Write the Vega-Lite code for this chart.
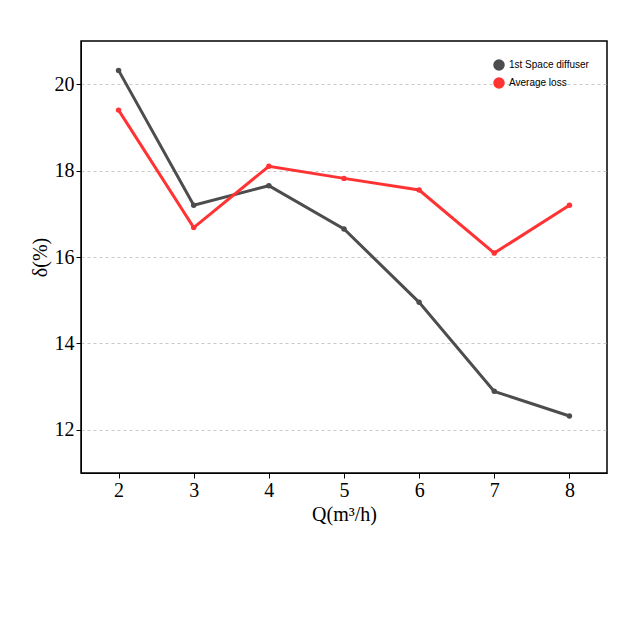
{
  "$schema": "https://vega.github.io/schema/vega-lite/v6.json",
  "width": 526,
  "height": 432,
  "autosize": {"type": "none"},
  "padding": {"left": 81, "top": 41, "right": 15, "bottom": 169},
  "background": "white",
  "config": {
    "view": {"stroke": "black", "strokeWidth": 1.5},
    "axis": {
      "labelFont": "Liberation Serif",
      "labelFontSize": 20,
      "labelColor": "black",
      "titleFont": "Liberation Serif",
      "titleFontSize": 20,
      "titleFontWeight": "normal",
      "titleColor": "black",
      "domainColor": "black",
      "tickColor": "black",
      "gridColor": "#c8c8c8",
      "gridDash": [3, 3]
    }
  },
  "data": {
    "values": [
      {"Q": 2, "delta": 20.32, "series": "1st Space diffuser"},
      {"Q": 3, "delta": 17.2, "series": "1st Space diffuser"},
      {"Q": 4, "delta": 17.65, "series": "1st Space diffuser"},
      {"Q": 5, "delta": 16.65, "series": "1st Space diffuser"},
      {"Q": 6, "delta": 14.95, "series": "1st Space diffuser"},
      {"Q": 7, "delta": 12.89, "series": "1st Space diffuser"},
      {"Q": 8, "delta": 12.32, "series": "1st Space diffuser"},
      {"Q": 2, "delta": 19.4, "series": "Average loss"},
      {"Q": 3, "delta": 16.68, "series": "Average loss"},
      {"Q": 4, "delta": 18.1, "series": "Average loss"},
      {"Q": 5, "delta": 17.82, "series": "Average loss"},
      {"Q": 6, "delta": 17.55, "series": "Average loss"},
      {"Q": 7, "delta": 16.09, "series": "Average loss"},
      {"Q": 8, "delta": 17.2, "series": "Average loss"}
    ]
  },
  "mark": {"type": "line", "strokeWidth": 3, "point": true},
  "encoding": {
    "x": {
      "field": "Q",
      "type": "quantitative",
      "scale": {"domain": [1.5, 8.5], "nice": false, "zero": false},
      "axis": {"title": "Q(m³/h)", "values": [2, 3, 4, 5, 6, 7, 8], "grid": false}
    },
    "y": {
      "field": "delta",
      "type": "quantitative",
      "scale": {"domain": [11, 21], "nice": false, "zero": false},
      "axis": {"title": "δ(%)", "values": [12, 14, 16, 18, 20]}
    },
    "color": {
      "field": "series",
      "type": "nominal",
      "scale": {"range": ["#4d4d4d", "#ff3333"]},
      "legend": {"title": null, "orient": "top-right"}
    }
  }
}
